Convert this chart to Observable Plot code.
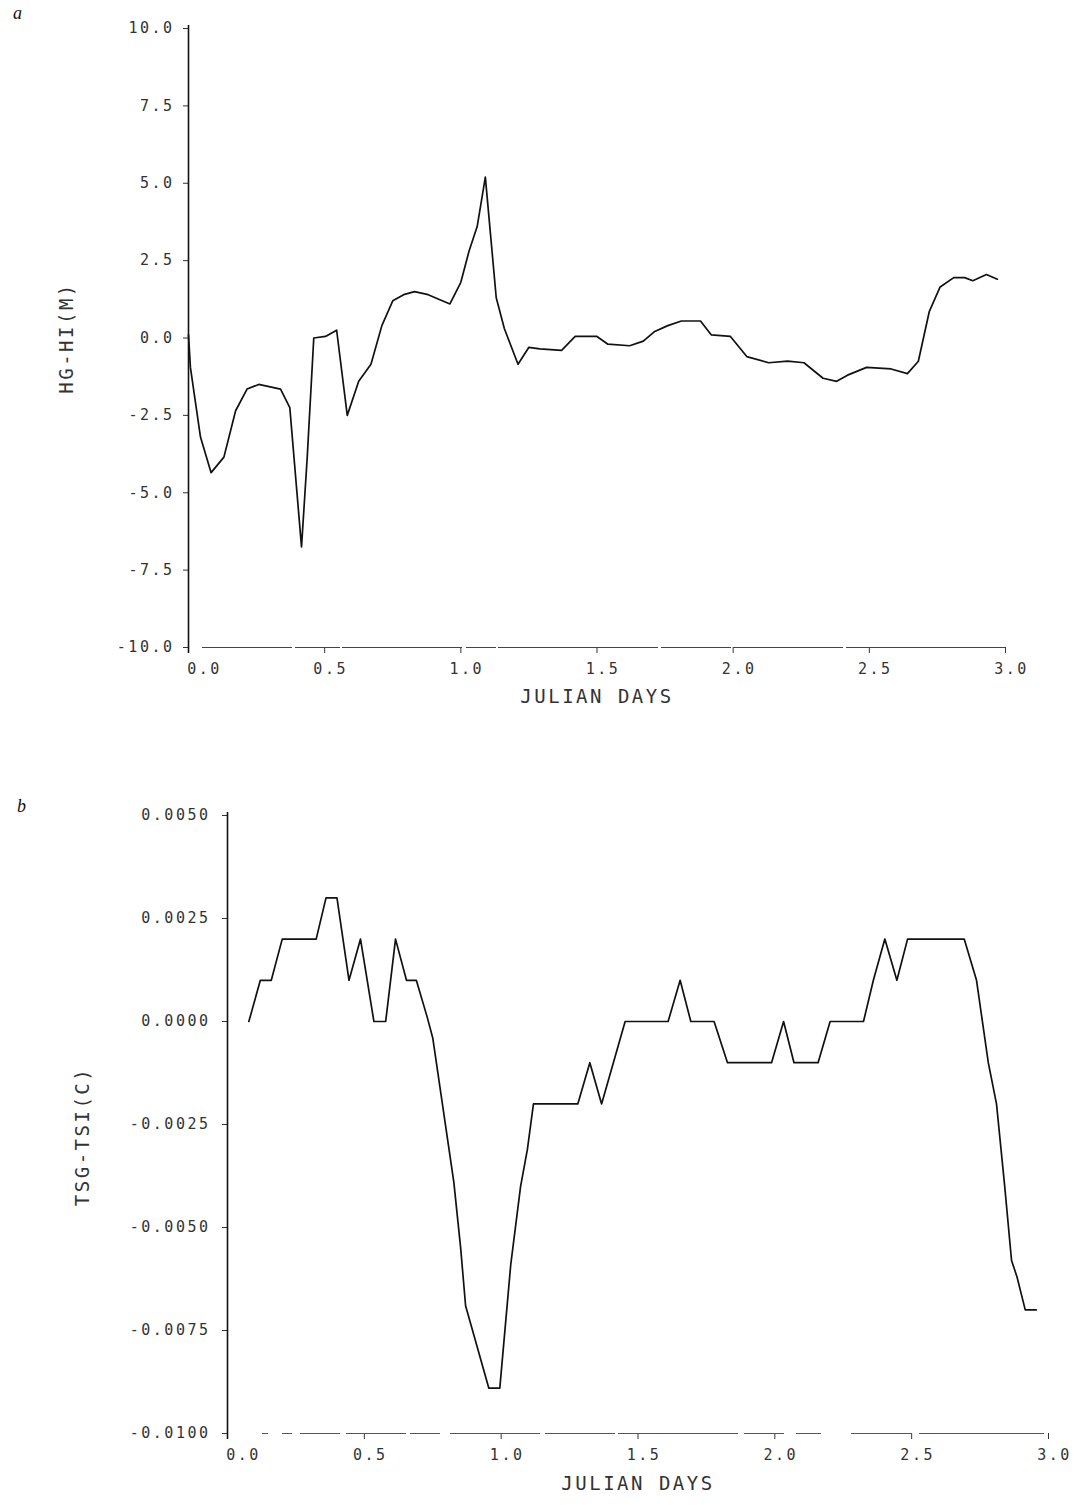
<!DOCTYPE html>
<html>
<head>
<meta charset="utf-8">
<script src="https://cdn.jsdelivr.net/npm/d3@7"></script>
<script src="https://cdn.jsdelivr.net/npm/@observablehq/plot@0.6"></script>
<style>
  html, body { margin: 0; padding: 0; background: #fff; }
  #page { position: relative; width: 1078px; height: 1505px; overflow: hidden; background: #fff; }
  .panel { position: absolute; left: 0; }
  .tag { position: absolute; font-family: "Liberation Serif", "DejaVu Serif", serif; font-style: italic; font-size: 18px; line-height: 1; color: #111; }
</style>
</head>
<body>
<div id="page">
  <div class="tag" style="left:13px; top:4px;">a</div>
  <div class="tag" style="left:17px; top:797px;">b</div>
  <div id="panelA" class="panel" style="top:0px;"></div>
  <div id="panelB" class="panel" style="top:730px;"></div>
</div>
<script>
// Panel a: height difference HG-HI (m) over three Julian days
const daysA = [0.000, 0.007, 0.044, 0.083, 0.130, 0.173, 0.215, 0.258, 0.338, 0.372,
  0.415, 0.436, 0.460, 0.503, 0.544, 0.583, 0.625, 0.670, 0.710, 0.750,
  0.790, 0.830, 0.880, 0.960, 1.000, 1.030, 1.060, 1.090, 1.130, 1.160,
  1.210, 1.250, 1.290, 1.370, 1.420, 1.500, 1.540, 1.620, 1.670, 1.710,
  1.760, 1.810, 1.880, 1.920, 1.990, 2.050, 2.130, 2.200, 2.260, 2.330,
  2.380, 2.420, 2.490, 2.580, 2.640, 2.680, 2.720, 2.760, 2.810, 2.850,
  2.880, 2.930, 2.970];
const hDiff = [0.1, -0.95, -3.2, -4.35, -3.85, -2.35, -1.65, -1.5, -1.65, -2.25,
  -6.75, -3.85, 0.0, 0.05, 0.25, -2.5, -1.4, -0.85, 0.4, 1.2,
  1.4, 1.5, 1.4, 1.1, 1.8, 2.8, 3.6, 5.2, 1.3, 0.3,
  -0.85, -0.3, -0.35, -0.4, 0.05, 0.05, -0.2, -0.25, -0.1, 0.2,
  0.4, 0.55, 0.55, 0.1, 0.05, -0.6, -0.8, -0.75, -0.8, -1.3,
  -1.4, -1.2, -0.95, -1.0, -1.15, -0.75, 0.85, 1.65, 1.95, 1.95,
  1.85, 2.05, 1.9];

// Panel b: surface temperature difference TSG-TSI (C)
const daysB = [0.078, 0.120, 0.160, 0.200, 0.324, 0.360, 0.400, 0.444, 0.486, 0.535,
  0.578, 0.614, 0.654, 0.690, 0.730, 0.750, 0.827, 0.852, 0.870, 0.955,
  0.995, 1.035, 1.071, 1.096, 1.118, 1.280, 1.324, 1.367, 1.453, 1.610,
  1.654, 1.693, 1.778, 1.827, 1.988, 2.032, 2.070, 2.158, 2.202, 2.324,
  2.360, 2.402, 2.446, 2.485, 2.692, 2.737, 2.780, 2.810, 2.840, 2.865,
  2.885, 2.915, 2.955];
const tsDiff = [0.0000, 0.0010, 0.0010, 0.0020, 0.0020, 0.0030, 0.0030, 0.0010, 0.0020, 0.0000,
  0.0000, 0.0020, 0.0010, 0.0010, 0.0001, -0.0004, -0.0039, -0.0055, -0.0069, -0.0089,
  -0.0089, -0.0059, -0.0040, -0.0031, -0.0020, -0.0020, -0.0010, -0.0020, 0.0000, 0.0000,
  0.0010, 0.0000, 0.0000, -0.0010, -0.0010, 0.0000, -0.0010, -0.0010, 0.0000, 0.0000,
  0.0010, 0.0020, 0.0010, 0.0020, 0.0020, 0.0010, -0.0010, -0.0020, -0.0040, -0.0058,
  -0.0062, -0.0070, -0.0070];

// Axis ticks and titles
const xTicks = [0, 0.5, 1.0, 1.5, 2.0, 2.5, 3.0];
const yTicksA = [10, 7.5, 5, 2.5, 0, -2.5, -5, -7.5, -10];
const yTicksB = [0.005, 0.0025, 0, -0.0025, -0.005, -0.0075, -0.01];
const xTitle = "JULIAN DAYS";
const yTitleA = "HG-HI(M)";
const yTitleB = "TSG-TSI(C)";

const baseStyle = {
  fontFamily: "'DejaVu Sans Mono', monospace",
  fontSize: "15px",
  letterSpacing: "2.5px",
  color: "#333",
  background: "transparent",
  overflow: "visible"
};

// Downward tick marks, plus labels nudged right (the origin label a bit further)
function xLabelMarks(fmt, pad) {
  return [
    Plot.axisX({ticks: xTicks, tickSize: 6, tickFormat: () => "", label: null, stroke: "#333"}),
    Plot.axisX({ticks: [0], tickSize: 0, tickPadding: pad, dx: 16, tickFormat: fmt, label: null}),
    Plot.axisX({ticks: xTicks.slice(1), tickSize: 0, tickPadding: pad, dx: 6, tickFormat: fmt, label: null})
  ];
}

// Panel a
const chartA = Plot.plot({
  width: 1078,
  height: 720,
  marginLeft: 188,
  marginRight: 73,
  marginTop: 28,
  marginBottom: 73,
  style: baseStyle,
  x: {domain: [0, 3]},
  y: {domain: [-10, 10]},
  marks: [
    Plot.axisY({ticks: yTicksA, tickSize: 5, tickPadding: 9, tickFormat: v => v.toFixed(1), label: null, stroke: "#333"}),
    ...xLabelMarks(v => v.toFixed(1), 16),
    Plot.ruleX([0], {stroke: "#111", strokeWidth: 1.6, insetTop: -3, insetBottom: -6}),
    Plot.ruleY([-10], {stroke: "#444", strokeWidth: 1.2, strokeDasharray: "0 14 90 3 45 2 120 4 30 2 160 3 70 2 110 3 200"}),
    Plot.line(daysA, {x: daysA, y: hDiff, stroke: "#111", strokeWidth: 1.7, curve: "linear"}),
    Plot.text([xTitle], {frameAnchor: "bottom", dy: 55, fontSize: 19, letterSpacing: "3px", fill: "#333"}),
    Plot.text([yTitleA], {frameAnchor: "left", textAnchor: "middle", dx: -122, rotate: -90, fontSize: 19, letterSpacing: "3.5px", fill: "#333"})
  ]
});
document.getElementById("panelA").appendChild(chartA);

// Panel b
const chartB = Plot.plot({
  width: 1078,
  height: 775,
  marginLeft: 227,
  marginRight: 30,
  marginTop: 85,
  marginBottom: 72,
  style: baseStyle,
  x: {domain: [0, 3]},
  y: {domain: [-0.01, 0.005]},
  marks: [
    Plot.axisY({ticks: yTicksB, tickSize: 5, tickPadding: 12, tickFormat: v => v.toFixed(4), label: null, stroke: "#333"}),
    ...xLabelMarks(v => v.toFixed(1), 16),
    Plot.ruleX([0], {stroke: "#111", strokeWidth: 1.6, insetTop: -3, insetBottom: -6}),
    Plot.ruleY([-0.01], {stroke: "#555", strokeWidth: 1.1, strokeDasharray: "0 35 6 14 10 8 40 6 60 4 30 10 90 5 70 3 120 6 40 12 25 30 60 8 90"}),
    Plot.line(daysB, {x: daysB, y: tsDiff, stroke: "#111", strokeWidth: 1.7, curve: "linear"}),
    Plot.text([xTitle], {frameAnchor: "bottom", dy: 56, fontSize: 19, letterSpacing: "3px", fill: "#333"}),
    Plot.text([yTitleB], {frameAnchor: "left", textAnchor: "middle", dx: -145, dy: 12, rotate: -90, fontSize: 19, letterSpacing: "2.5px", fill: "#333"})
  ]
});
document.getElementById("panelB").appendChild(chartB);
</script>
</body>
</html>
